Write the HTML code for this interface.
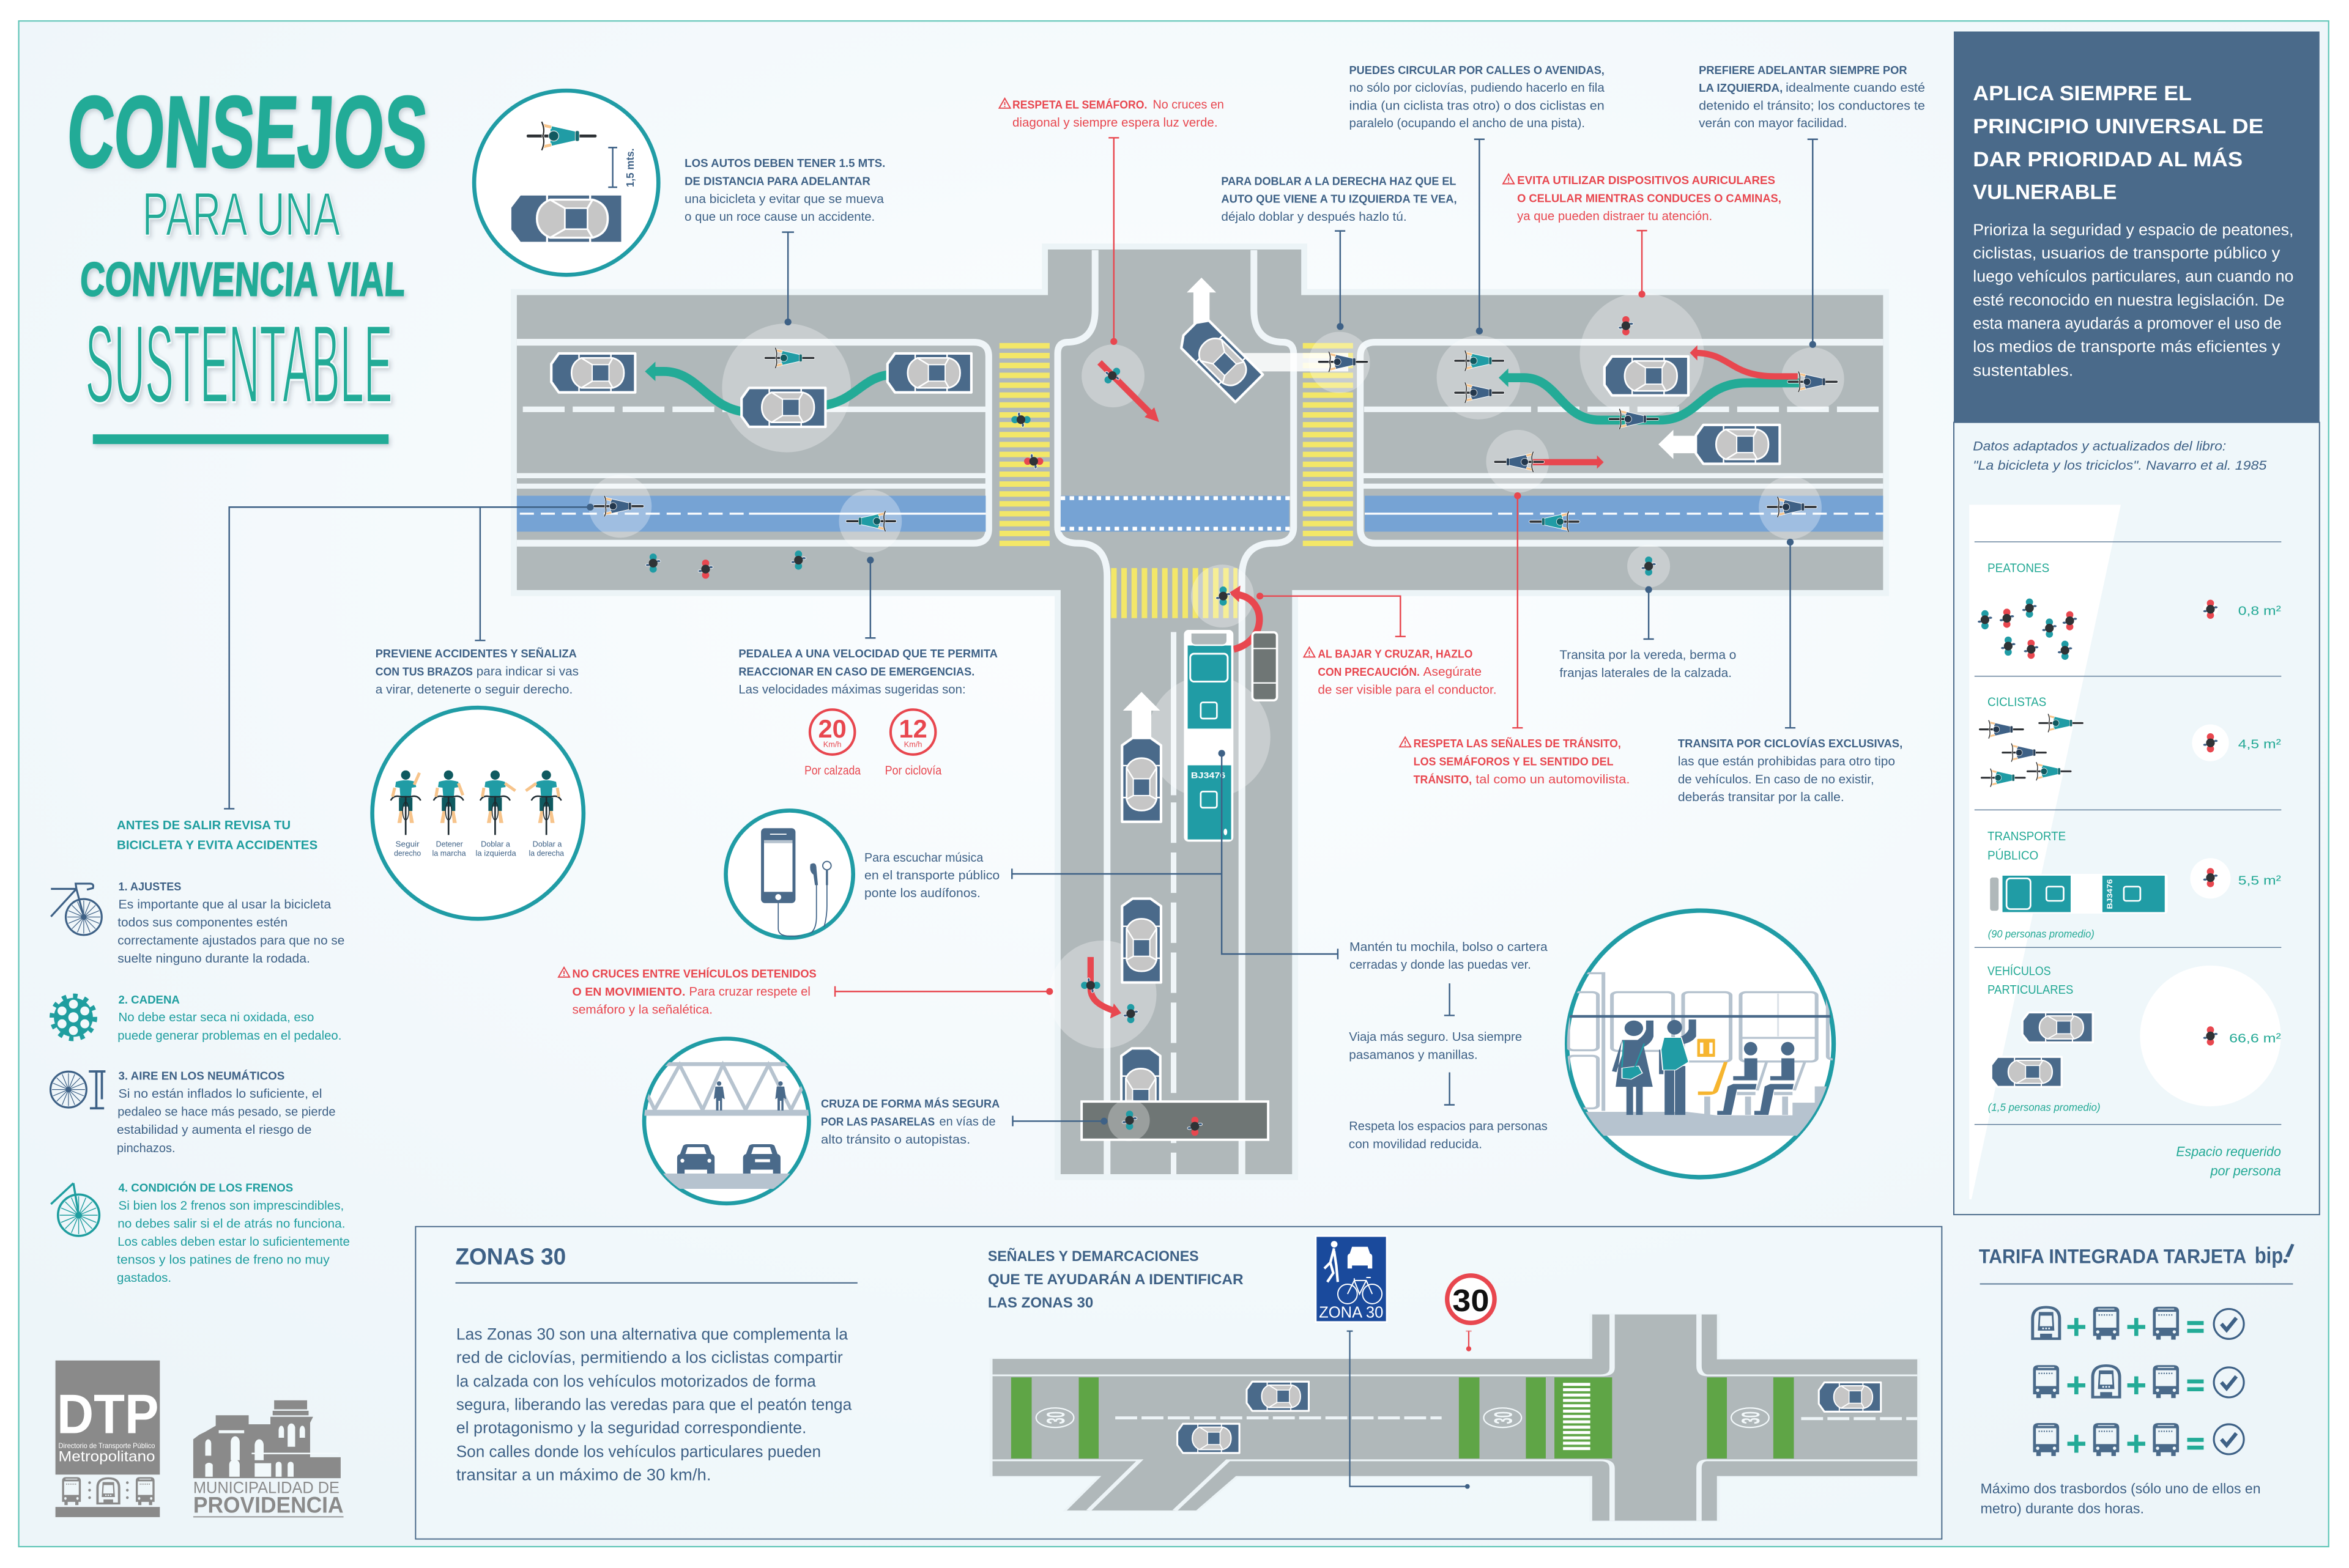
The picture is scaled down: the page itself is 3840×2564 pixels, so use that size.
<!DOCTYPE html>
<html lang="es"><head><meta charset="utf-8"><title>Consejos para una convivencia vial sustentable</title>
<style>
html,body{margin:0;padding:0;background:#fff;width:3840px;height:2564px;overflow:hidden}
svg{display:block}
text{font-family:"Liberation Sans",sans-serif}
.n{fill:#3e6186;font-size:8.2px}
.nb{fill:#3e6186;font-size:7.7px;font-weight:700}
.r{fill:#e8474f;font-size:8.2px}
.rb{fill:#e8474f;font-size:7.7px;font-weight:700}
.t{fill:#1f9e9f;font-size:8.2px}
.tb{fill:#1f9e9f;font-size:7.7px;font-weight:700}
.gr{fill:#23a995;font-size:8.4px}
.gi{fill:#23a995;font-size:8px;font-style:italic}
.w{fill:#fff;font-size:10.5px}
.wh{fill:#fff;font-size:14px;font-weight:700}
.z{fill:#3e6186;font-size:11px}
</style></head><body>
<svg xmlns="http://www.w3.org/2000/svg" width="3840" height="2564" viewBox="0 0 1568 1046.96">
<defs>
<radialGradient id="bg" cx="50%" cy="35%" r="70%"><stop offset="0" stop-color="#fcfeff"/><stop offset="1" stop-color="#edf5f9"/></radialGradient>
<filter id="sh" x="-10%" y="-10%" width="120%" height="130%"><feDropShadow dx="1.2" dy="1.6" stdDeviation="1.4" flood-color="#345" flood-opacity=".22"/></filter>
<clipPath id="c1"><circle cx="1135" cy="697" r="89"/></clipPath>
<clipPath id="c2"><circle cx="485" cy="748.5" r="55"/></clipPath>
<clipPath id="c3"><circle cx="527" cy="583.7" r="42"/></clipPath>
<g id="car">
<path d="M-23,-13H28V13H-23L-28,6V-6Z" fill="#4a6a8a" stroke="#fff" stroke-width="1.7" stroke-linejoin="round"/>
<path d="M-9.5,-13.5V-9M11.8,-13.5V-9M-9.5,13.5V9M11.8,13.5V9" stroke="#fff" stroke-width="1" fill="none"/>
<path d="M-8,-10H13Q20.5,-8 20.5,0Q20.5,8 13,10H-8Q-14.5,7 -14.5,0Q-14.5,-7 -8,-10Z" fill="#c6c6c6" stroke="#fff" stroke-width="1.1"/>
<path d="M-8,-10L-.7,-5.5M13,-10L10.5,-5.5M-8,10L-.7,5.5M13,10L10.5,5.5" stroke="#fff" stroke-width="1" fill="none"/>
<rect x="-.7" y="-5.5" width="11.2" height="11" fill="#4a6a8a" stroke="#fff" stroke-width=".8"/>
</g>
<g id="bk">
<path d="M-16,0H16" stroke="#fff" stroke-width="2.1" stroke-linecap="round"/><path d="M-16,0H16" stroke="#2b2f33" stroke-width="1.4" stroke-linecap="round"/>
<path d="M-5.5,-5L7,-2.2V2.2L-5.5,5Z" fill="currentColor" stroke="#fff" stroke-width=".4"/>
<rect x="6.5" y="-2.5" width="1.9" height="5" rx=".8" fill="currentColor" stroke="#fff" stroke-width=".3"/><rect x="6.5" y="-2.5" width="1.9" height="5" rx=".8" fill="#000" fill-opacity=".3"/>
<path d="M-9,-6L-4.7,-5L-5,-3.4L-9.3,-4.4ZM-9,6L-4.7,5L-5,3.4L-9.3,4.4Z" fill="#f7c48b" stroke="#fff" stroke-width=".25"/>
<path d="M-9.5,-6.8Q-7.8,-3 -9,0Q-7.8,3 -9.5,6.8" stroke="#fff" stroke-width="1.1" fill="none"/>
<path d="M-9.5,-6.8Q-7.8,-3 -9,0Q-7.8,3 -9.5,6.8" stroke="#222" stroke-width=".6" fill="none"/>
<circle cx="-3.8" cy="0" r="2.4" fill="currentColor" stroke="#fff" stroke-width=".35"/><circle cx="-3.8" cy="0" r="2.3" fill="#000" fill-opacity=".42"/>
</g>
<g id="pd">
<ellipse cx="0" cy="-4" rx="2.4" ry="2.4" fill="currentColor"/><ellipse cx="0" cy="4" rx="2.4" ry="2.4" fill="currentColor"/>
<ellipse cx="3.6" cy="-1.3" rx="1.4" ry=".9" fill="#3e6186" stroke="#fff" stroke-width=".35"/>
<ellipse cx="-3.6" cy="1.3" rx="1.4" ry=".9" fill="#3e6186" stroke="#fff" stroke-width=".35"/>
<circle r="2.9" fill="#2f3336"/>
</g>
<g id="wh" fill="none" stroke="currentColor">
<circle r="12" stroke-width="1.3"/><circle r="1.6" stroke-width=".6"/>
<path d="M-11,0H11M0,-11V11M-7.8,-7.8L7.8,7.8M-7.8,7.8L7.8,-7.8M-4.2,-10.2L4.2,10.2M-4.2,10.2L4.2,-10.2M-10.2,-4.2L10.2,4.2M-10.2,4.2L10.2,-4.2" stroke-width=".5"/>
</g>
<g id="bs">
<path d="M-8.7,-8Q-8.7,-11 -5,-11H5Q8.7,-11 8.7,-8V8.5H6.5V11H3.5V8.5H-3.5V11H-6.5V8.5H-8.7Z" fill="currentColor"/>
<path d="M-6.8,-7.6H6.8V3H-6.8Z" fill="#eef6f9"/><path d="M-5.5,-9.4H5.5" stroke="#eef6f9" stroke-width=".6"/>
<path d="M-5,-5.5H5" stroke="currentColor" stroke-width=".9" stroke-dasharray=".8 .9"/>
<circle cx="-5.6" cy="5.8" r="1.1" fill="#eef6f9"/><circle cx="5.6" cy="5.8" r="1.1" fill="#eef6f9"/>
</g>
<g id="mt">
<path d="M-10,11.2V-3Q-10,-11.5 0,-11.5Q10,-11.5 10,-3V11.2Z" fill="currentColor"/>
<path d="M-8,9.5V-3Q-8,-9.8 0,-9.8Q8,-9.8 8,-3V9.5H4V7H-4V9.5Z" fill="#eef6f9"/>
<path d="M-4.8,-7.5H4.8L5.5,5H-5.5Z" fill="currentColor"/><path d="M-3.8,-5H3.8L4.2,2H-4.2Z" fill="#eef6f9"/>
<circle cx="-2" cy="3.5" r=".6" fill="#eef6f9"/><circle cy="3.5" r=".6" fill="#eef6f9"/><circle cx="2" cy="3.5" r=".6" fill="#eef6f9"/>
</g>
<g id="ck"><circle r="10" fill="none" stroke="#3e6186" stroke-width="1.3"/><path d="M-5,0L-1.5,4L5,-4" fill="none" stroke="#3e6186" stroke-width="2.5"/></g>
<g id="pe"><path d="M-6,0H6M0,-6V6" stroke="#23ab97" stroke-width="2.7"/></g>
<g id="eq"><path d="M-5.5,-2.6H5.5M-5.5,2.6H5.5" stroke="#23ab97" stroke-width="2.7"/></g>
<path id="wr" d="M0,-3.8L3.7,2.7H-3.7ZM0,-1.4V.7M0,1.3V2" fill="none" stroke="#e8474f" stroke-width=".8"/>
<g id="fg">
<path d="M-6.5,4.5Q0,2.5 6.5,4.5L7,8L4,8.5L3.5,15H-3.5L-4,8.5L-7,8Z" fill="#209ca5"/>
<circle r="3.1" fill="#0f5a60"/>
<path d="M-4.5,15H4.5L4.5,24H2V21H-2V24H-4.5Z" fill="#0f5a60"/>
<path d="M-4,24L-5.5,32H-2.8L-2,24ZM4,24L5.5,32H2.8L2,24Z" fill="#f7c48b"/>
<path d="M-10,17Q-8,13 -3,14.5H3Q8,13 10,17" fill="none" stroke="#1d2a30" stroke-width="1"/>
<path d="M0,14V40" stroke="#1d2a30" stroke-width="1.1"/>
<ellipse cx="0" cy="24" rx="2" ry="6" fill="none" stroke="#1d2a30" stroke-width=".6"/>
</g>
</defs>

<rect width="1568" height="1046.96" fill="#fff"/>
<rect x="12.5" y="14" width="1541.9" height="1018.7" fill="url(#bg)" stroke="#62c6b8" stroke-width=".9"/>

<!-- TITLE -->
<g filter="url(#sh)" fill="#23ab97">
<text transform="translate(41,111.3) skewX(-3)" x="3" font-size="67.5" font-weight="700" stroke="#23ab97" stroke-width="1.3" textLength="240" lengthAdjust="spacingAndGlyphs">CONSEJOS</text>
<text x="95" y="157" font-size="41" stroke="#f6fbfd" stroke-width=".7" textLength="132" lengthAdjust="spacingAndGlyphs">PARA UNA</text>
<text transform="translate(52,197.5) skewX(-3)" x="1" font-size="32" font-weight="700" stroke="#23ab97" stroke-width=".7" textLength="217" lengthAdjust="spacingAndGlyphs">CONVIVENCIA VIAL</text>
<text x="57" y="268.5" font-size="74" stroke="#f6fbfd" stroke-width="1.3" textLength="205" lengthAdjust="spacingAndGlyphs">SUSTENTABLE</text>
<rect x="62" y="290" width="197.4" height="6.5"/>
</g>

<!-- MAIN ROAD -->
<path d="M345,197H699.5V166.6H868.6V197H1257V394H862.5V784H708V394H345Z" fill="#b0b8ba" stroke="#ecf4f7" stroke-width="8" paint-order="stroke"/>
<g fill="none" stroke="#eff5f8" stroke-width="4.5">
<path d="M345,228.5H650Q660,228.5 660,238V353Q660,362.7 650,362.7H345"/>
<path d="M1257,228.5H918Q908,228.5 908,238V353Q908,362.7 918,362.7H1257"/>
<path d="M731,167V207Q731,228.5 712,228.5Q706,229 706,236V352Q706,362.7 720,362.7Q739,363 739,385V784"/>
<path d="M837,167V207Q837,228.5 857,228.5Q863.5,229 863.5,236V352Q863.5,362.7 850,362.7Q829,363 829,385V784"/>
</g>
<g fill="none" stroke="#eff5f8" stroke-width="3.7">
<path d="M349,273.3H525" stroke-dasharray="27.9 5.4"/><path d="M548,273.3H658"/>
<path d="M910.5,273.3H1022"/><path d="M1026.4,273.3H1254" stroke-dasharray="27.9 5.4"/>
<path d="M783.4,422V531"/><path d="M783.4,535.8V784" stroke-dasharray="27 6.4"/>
</g>
<g stroke="#eff5f8" stroke-width="3.4"><path d="M345,317.6H658M345,324.6H658M910,317.6H1257M910,324.6H1257"/></g>
<g fill="#76a3d4"><rect x="345" y="331" width="313" height="24"/><rect x="708" y="331" width="152.6" height="24"/><rect x="911" y="331" width="346" height="24"/></g>
<path d="M708,332.6H861M708,353H861" stroke="#fff" stroke-width="2.6" stroke-dasharray="3 3" fill="none"/>
<g stroke="#fff" stroke-width="1.3" fill="none"><path d="M347,343H500" stroke-dasharray="9.4 4.6"/><path d="M500,343H658M911,343H996"/><path d="M1000,343H1257" stroke-dasharray="9.4 4.6"/></g>

<!-- crosswalks -->
<g fill="none" stroke="#f3e768" stroke-width="33.5" stroke-dasharray="3.65 2.95">
<path d="M683.9,229V365"/><path d="M886.4,229V365"/>
<path d="M741.7,396H826" stroke-width="33.4" stroke-dasharray="3.7 3.1"/>
</g>

<!-- bubbles -->
<g fill="#fff" fill-opacity=".3">
<circle cx="525" cy="259" r="43"/><circle cx="414" cy="338" r="21"/><circle cx="581" cy="348" r="21"/>
<circle cx="743" cy="251" r="21"/><circle cx="894" cy="242" r="20.5"/><circle cx="987" cy="252" r="28"/>
<circle cx="1096" cy="237" r="41.5"/><circle cx="1210" cy="253" r="21"/><circle cx="1013" cy="308" r="21"/>
<circle cx="1195" cy="339" r="21"/><circle cx="1100.5" cy="378" r="14.3"/><circle cx="816" cy="398" r="21"/>
<circle cx="807" cy="492" r="41"/><circle cx="736" cy="664" r="36"/>
</g>

<!-- arrows white -->
<g fill="#fff">
<path d="M802,185.4L811.8,195.3H807.4V216H796.6V195.3H792.2Z"/>
<path d="M828,235.7H900V248H828Z" fill-opacity=".85"/>
<path d="M1107,296.7L1117,287V291H1135V302.6H1117V306.5Z"/>
<path d="M762,462L774.4,474.5H768.5V495H755.5V474.5H749.6Z"/>
</g>
<!-- arrows teal -->
<g fill="none" stroke="#23ab97" stroke-width="6">
<path d="M497,275C472,272 466,248 443,248H435"/>
<path d="M548,271C572,268 575,251 596,250"/>
<path d="M1006,252.2H1017C1040,252 1042,280.5 1068,280.5H1108C1134,280.5 1136,255.6 1166,255.6H1201"/>
</g>
<path d="M430.5,248L437.5,241.5V254.5ZM1000.4,252.2L1006.8,246V258.4Z" fill="#23ab97"/>
<!-- arrows red -->
<g fill="none" stroke="#e8474f" stroke-width="4.2">
<path d="M1132,235.6C1155,236 1155,251.3 1185,251.3H1200"/>
<path d="M1023,308.6H1067"/>
<path d="M734,242L769,277"/>
<path d="M728,639V660C728,668 735,672 744,675"/>
<path d="M823.5,433.5C846,428 846,400 826,397" stroke-width="4.6"/>
</g>
<path d="M1128,235.6L1133,230.5V240.7ZM1070.5,308.6L1066,304V313ZM773.7,281.8L764,278.5L770.5,272ZM748.5,676.5L741,680L743.5,670ZM820.4,395.8L828,391L827,402Z" fill="#e8474f"/>

<!-- bus -->
<rect x="790.3" y="420.6" width="33" height="141.4" rx="3" fill="#fff"/>
<rect x="792.8" y="431" width="29" height="55.5" fill="#209ca5"/>
<path d="M794.8,422.5H819.2V427.5Q819.2,430.8 815.5,430.8H798.5Q794.8,430.8 794.8,427.5Z" fill="#b0b8ba" stroke="#fff" stroke-width="1"/>
<rect x="794.5" y="436.5" width="25" height="18.6" rx="2.5" fill="#209ca5" stroke="#fff" stroke-width="1.2"/>
<rect x="801.5" y="469" width="10.8" height="10.8" rx="1.4" fill="#209ca5" stroke="#fff" stroke-width="1.1"/>
<rect x="792.8" y="511" width="29" height="49.5" fill="#209ca5"/>
<rect x="801.5" y="528.5" width="10.8" height="10.8" rx="1.4" fill="#209ca5" stroke="#fff" stroke-width="1.1"/>
<ellipse cx="818" cy="555.5" rx="1.2" ry="2.2" fill="#fff"/>
<text x="795" y="519.6" font-size="5.6" font-weight="700" fill="#fff" textLength="23" lengthAdjust="spacingAndGlyphs">BJ3476</text>
<rect x="836" y="422.2" width="16.4" height="45.4" rx="2.2" fill="#6f7675" stroke="#fff" stroke-width="1.5"/>
<path d="M836,433H852.4M836,456H852.4" stroke="#fff" stroke-width=".9"/>

<!-- cars -->
<use href="#car" transform="translate(396,249)"/>
<use href="#car" transform="translate(523,272)"/>
<use href="#car" transform="translate(620.4,249)"/>
<use href="#car" transform="translate(814,239.5) rotate(45)"/>
<use href="#car" transform="translate(1099,251)"/>
<use href="#car" transform="translate(1160,296.7)"/>
<use href="#car" transform="translate(762,520.7) rotate(90)"/>
<use href="#car" transform="translate(762,628) rotate(90)"/>
<use href="#car" transform="translate(761.5,728) rotate(90)"/>

<!-- pasarela -->
<rect x="722" y="735.5" width="124.5" height="25.5" fill="#6f7675" stroke="#fff" stroke-width="1.6"/>
<circle cx="753.5" cy="748" r="14" fill="#fff" fill-opacity=".3"/>

<!-- bikers -->
<use href="#bk" color="#209ca5" transform="translate(527,239)"/>
<use href="#bk" color="#3e6186" transform="translate(413,338)"/>
<use href="#bk" color="#209ca5" transform="translate(581.5,348) scale(-1,1)"/>
<use href="#bk" color="#3e6186" transform="translate(896.5,241.6)"/>
<use href="#bk" color="#209ca5" transform="translate(987.4,240.9)"/>
<use href="#bk" color="#3e6186" transform="translate(987.4,262.2)"/>
<use href="#bk" color="#3e6186" transform="translate(1090.5,279.8)"/>
<use href="#bk" color="#3e6186" transform="translate(1210,254.9)"/>
<use href="#bk" color="#3e6186" transform="translate(1014,308.4) scale(-1,1)"/>
<use href="#bk" color="#209ca5" transform="translate(1037.6,348.3) scale(-1,1)"/>
<use href="#bk" color="#3e6186" transform="translate(1196,338.5)"/>
<!-- peds -->
<use href="#pd" color="#209ca5" transform="translate(436,376)"/>
<use href="#pd" color="#e8474f" transform="translate(471,380)"/>
<use href="#pd" color="#209ca5" transform="translate(533,374)"/>
<use href="#pd" color="#209ca5" transform="translate(681.5,280.2) rotate(90)"/>
<use href="#pd" color="#e8474f" transform="translate(690,308) rotate(90)"/>
<use href="#pd" color="#209ca5" transform="translate(742.5,250.8) rotate(45)"/>
<use href="#pd" color="#e8474f" transform="translate(1085.3,217.5)"/>
<use href="#pd" color="#209ca5" transform="translate(1100.5,378)"/>
<use href="#pd" color="#209ca5" transform="translate(816.5,398)"/>
<use href="#pd" color="#209ca5" transform="translate(728,657.9) rotate(90)"/>
<use href="#pd" color="#209ca5" transform="translate(754.8,676.8)"/>
<use href="#pd" color="#209ca5" transform="translate(754,748)"/>
<use href="#pd" color="#e8474f" transform="translate(797.6,752)"/>

<!-- connectors -->
<g fill="none" stroke="#3e6186" stroke-width="1">
<path d="M526,155V215M522,155H530"/>
<path d="M894.6,154.2V218M891,154.2H898"/>
<path d="M987.5,93V221M984,93H991"/>
<path d="M1210,93V230M1206.5,93H1213.5"/>
<path d="M1195,362V486M1191.5,486H1198.5"/>
<path d="M1100.5,393.7V426.7M1097,426.7H1104"/>
<path d="M581,374V426M577.5,426H584.5"/>
<path d="M394,338.6H153V540M149.5,540H156.5M320.5,338.6V427.6M317,427.6H324"/>
<path d="M815.5,503V637H893M893,633.5V640.5M815.5,583.5H675.5M675.5,580V587"/>
<path d="M676,748.6H737M676,745V752"/>
<path d="M967.6,656.6V678M964,678H971M967.6,716V737.7M964,737.7H971"/>
</g>
<g fill="none" stroke="#e8474f" stroke-width="1">
<path d="M743.5,92V228M740,92H747"/>
<path d="M1096,154V196M1092.5,154H1099.5"/>
<path d="M1013,331V486M1009.5,486H1016.5"/>
<path d="M841,398H934.8V425M931.3,425H938.3"/>
<path d="M557.4,662H700.6M557.4,658.5V665.5"/>
<path d="M978.5,888.8H982.3"/>
</g>
<g fill="#3e6186">
<circle cx="526" cy="215" r="2.3"/><circle cx="894.6" cy="218" r="2.3"/><circle cx="987.5" cy="221" r="2.3"/><circle cx="1210" cy="230" r="2.3"/>
<circle cx="1195" cy="362" r="2.3"/><circle cx="1100.5" cy="393.7" r="2.3"/><circle cx="581" cy="374" r="2.3"/><circle cx="394" cy="338.6" r="2.3"/>
<circle cx="815.5" cy="503" r="2.3"/><circle cx="737" cy="748.6" r="2.3"/>
</g>
<g fill="#e8474f">
<circle cx="743.5" cy="228" r="2.3"/><circle cx="1096" cy="196.4" r="2.3"/><circle cx="1013" cy="331" r="2.3"/><circle cx="841" cy="398" r="2.3"/><circle cx="700.6" cy="662" r="2.3"/>
</g>

<!-- CIRCLE 1 -->
<circle cx="378" cy="122" r="61.5" fill="#fff" stroke="#209ca5" stroke-width="2.7"/>
<use href="#bk" color="#209ca5" transform="translate(374.9,90.8) scale(1.4)"/>
<path d="M409,98.5V125M406,98.5H412M406,125H412" stroke="#3e6186" stroke-width="1" fill="none"/>
<text transform="translate(423,125) rotate(-90)" font-size="7.2" font-weight="700" fill="#3e6186" textLength="26" lengthAdjust="spacingAndGlyphs">1,5 mts.</text>
<use href="#car" transform="translate(378,146) scale(1.35,1.27)"/>

<!-- signals -->
<circle cx="319" cy="543" r="70.5" fill="#fff" stroke="#209ca5" stroke-width="2.7"/>
<use href="#fg" x="270.8" y="517.5"/><use href="#fg" x="299.4" y="517.5"/><use href="#fg" x="330.5" y="517.5"/><use href="#fg" x="364.7" y="517.5"/>
<g fill="none" stroke="#f7c48b" stroke-width="2">
<path d="M263.5,526L262,532M276.5,524L280,516"/><path d="M292,526L291,532M306,523L309,531"/>
<path d="M323,526L322,532M337,523L344,528"/><path d="M372,526L373,532M358,523L351,528"/>
</g>
<g font-size="5.3" fill="#3e6186">
<text x="264" y="565.3" textLength="16" lengthAdjust="spacingAndGlyphs">Seguir</text><text x="263" y="571.5" textLength="18" lengthAdjust="spacingAndGlyphs">derecho</text>
<text x="291" y="565.3" textLength="18" lengthAdjust="spacingAndGlyphs">Detener</text><text x="288.5" y="571.5" textLength="22.5" lengthAdjust="spacingAndGlyphs">la marcha</text>
<text x="321" y="565.3" textLength="19.5" lengthAdjust="spacingAndGlyphs">Doblar a</text><text x="317.5" y="571.5" textLength="27" lengthAdjust="spacingAndGlyphs">la izquierda</text>
<text x="355.5" y="565.3" textLength="19.5" lengthAdjust="spacingAndGlyphs">Doblar a</text><text x="353" y="571.5" textLength="23.5" lengthAdjust="spacingAndGlyphs">la derecha</text>
</g>

<!-- phone -->
<circle cx="527" cy="583.7" r="42.5" fill="#fff" stroke="#209ca5" stroke-width="2.7"/>
<g clip-path="url(#c3)">
<rect x="508" y="553" width="23" height="50" rx="2.6" fill="#4a6a8a"/><rect x="510" y="561" width="19" height="34.5" fill="#fff"/><rect x="510" y="561" width="19" height="2" fill="#b6c3cf"/>
<circle cx="519.5" cy="599" r="2" fill="#fff"/><path d="M514,557H525" stroke="#fff" stroke-width=".7"/>
<path d="M519.5,603V620Q519.5,625 527,625H535Q545,625 545,612V590M552,585V605Q552,616 547,628" fill="none" stroke="#3e6186" stroke-width=".7"/>
<path d="M541,577Q545,575 545,580L546,591H544L543,584Q540,582 541,577Z" fill="#4a6a8a"/>
<circle cx="552" cy="578" r="2.8" fill="#fff" stroke="#4a6a8a" stroke-width=".8"/><path d="M552,581V591" stroke="#4a6a8a" stroke-width="1.4"/>
</g>

<!-- bridge -->
<circle cx="485" cy="748.5" r="55" fill="#fff" stroke="#209ca5" stroke-width="2.7"/>
<g clip-path="url(#c2)">
<path d="M425,710.5H545" stroke="#b6c3cf" stroke-width="2.6"/>
<path d="M425,743H545" stroke="#b6c3cf" stroke-width="4"/>
<path d="M422,710L437,741L453.7,711L469,741L482.5,711L497.7,741L513,711L528,741L543,711" fill="none" stroke="#b6c3cf" stroke-width="2.4"/>
<rect x="425" y="783.6" width="120" height="10.2" fill="#b6c3cf"/>
<g fill="#4a6a8a">
<circle cx="480" cy="723.5" r="1.5"/><path d="M477.5,725.5H482.5L483.8,734L482,733V741.5H480.6V735H479.6V741.5H478V733L476.5,734Z"/>
<circle cx="521" cy="723.5" r="1.5"/><path d="M518.5,725.5H523.5L524.8,734L523,733V741.5H521.6V735H520.6V741.5H519V733L517.5,734Z"/>
<path d="M452,783.6V773Q452,771 454,770.5L456,765Q457,764 459,764H470Q472,764 473,765L475,770.5Q477,771 477,773V783.6H472V781H457V783.6Z"/>
<path d="M496,783.6V773Q496,771 498,770.5L500,765Q501,764 503,764H514Q516,764 517,765L519,770.5Q521,771 521,773V783.6H516V781H501V783.6Z"/>
</g>
<path d="M457.5,770.5L459,766H470L471.5,770.5ZM501.5,770.5L503,766H514L515.5,770.5Z" fill="#fff"/>
<circle cx="455.5" cy="775" r="1.3" fill="#fff"/><circle cx="473.5" cy="775" r="1.3" fill="#fff"/><rect x="504" y="774" width="10" height="2" fill="#fff"/>
</g>

<!-- interior -->
<circle cx="1135" cy="697" r="89" fill="#fff" stroke="#209ca5" stroke-width="3"/>
<g clip-path="url(#c1)"><g transform="translate(898.3,592) scale(.2475,.1361)">
<g fill="none" stroke="#b6c3cf" stroke-width="10">
<rect x="600" y="518" width="80" height="285" rx="15"/><rect x="600" y="830" width="80" height="258" rx="15"/>
<rect x="718" y="518" width="165" height="288" rx="15"/><rect x="910" y="518" width="128" height="340" rx="15"/>
<rect x="1065" y="518" width="205" height="340" rx="15"/><rect x="1300" y="518" width="60" height="330" rx="15"/>
<path d="M600,425H695V1100M1065,742H1270"/><path d="M1166,525V735" stroke-width="5" stroke="#dbe2e8"/>
</g>
<path d="M640,1105H920L1000,1122H1205V1060H1265V980H1340V1222H640Z" fill="#b6c3cf"/>
<g fill="#4a6a8a">
<rect x="600" y="630" width="715" height="13"/>
<ellipse cx="777" cy="695" rx="25" ry="38"/>
<path d="M810,657H830V735Q825,770 800,790L780,760Q805,735 810,700Z"/>
<path d="M745,752H800L828,982H728ZM745,752L718,905L730,910L750,800Z"/>
<rect x="757" y="975" width="18" height="145"/><rect x="783" y="975" width="18" height="145"/>
<ellipse cx="887" cy="690" rx="20" ry="36"/>
<path d="M925,652H945V735Q935,765 905,775L895,745Q920,725 925,700Z"/>
<rect x="860" y="880" width="26" height="240"/><rect x="888" y="880" width="28" height="240"/>
<rect x="845" y="800" width="12" height="120"/>
<ellipse cx="1092" cy="795" rx="18" ry="33"/><ellipse cx="1192" cy="795" rx="18" ry="33"/>
<path d="M1075,842H1110V950H1045V930H1075ZM1175,842H1210V950H1145V930H1175Z"/>
<path d="M1045,968H1108L1105,995H1055L1040,1120H1002V1100L1018,1100L1030,980ZM1145,968H1208L1205,995H1155L1140,1120H1102V1100L1118,1100L1130,980Z"/>
</g>
<path d="M858,740H905L925,860L890,900H855L850,800Z" fill="#209ca5" stroke="#fff" stroke-width="3"/>
<path d="M745,890L790,880L800,915L770,945L745,940Z" fill="#209ca5" stroke="#fff" stroke-width="3"/>
<path d="M750,755L745,885M805,770L780,885" stroke="#209ca5" stroke-width="4"/>
<rect x="948" y="747" width="48" height="88" rx="3" fill="#f6b52f"/>
<path d="M960,765V820M985,765V820" stroke="#fff" stroke-width="9"/>
<path d="M1030,860L1005,1000Q1000,1022 975,1022H950V1005H990L1020,860Z" fill="#f6b52f"/>
<path d="M975,1030V1120M1085,1030V1120M1185,1030V1120" stroke="#b6c3cf" stroke-width="16"/>
<path d="M1135,860L1110,1000M1238,860L1210,1000" stroke="#b6c3cf" stroke-width="8"/>
<path d="M1055,1015H1105M1155,1015H1205" stroke="#b6c3cf" stroke-width="16"/>
</g></g>

<!-- speed signs -->
<g fill="none" stroke="#e8474f" stroke-width="1.7"><circle cx="555.6" cy="488.8" r="15"/><circle cx="609.5" cy="488.8" r="15"/></g>
<g fill="#e8474f" text-anchor="middle">
<text x="555.6" y="492.5" font-size="17" font-weight="700">20</text><text x="609.5" y="492.5" font-size="17" font-weight="700">12</text>
<text x="555.6" y="498.8" font-size="5.2">Km/h</text><text x="609.5" y="498.8" font-size="5.2">Km/h</text>
</g>

<!-- LABELS -->
<text class="nb" x="457" y="111.5" textLength="134" lengthAdjust="spacingAndGlyphs">LOS AUTOS DEBEN TENER 1.5 MTS.</text>
<text class="nb" x="457" y="123.5" textLength="124" lengthAdjust="spacingAndGlyphs">DE DISTANCIA PARA ADELANTAR</text>
<text class="n" x="457" y="135.5" textLength="133" lengthAdjust="spacingAndGlyphs">una bicicleta y evitar que se mueva</text>
<text class="n" x="457" y="147.5" textLength="127" lengthAdjust="spacingAndGlyphs">o que un roce cause un accidente.</text>

<use href="#wr" x="670.7" y="69.5"/>
<text class="rb" x="675.8" y="72.4" textLength="90" lengthAdjust="spacingAndGlyphs">RESPETA EL SEMÁFORO.</text>
<text class="r" x="769.5" y="72.4" textLength="47.5" lengthAdjust="spacingAndGlyphs">No cruces en</text>
<text class="r" x="675.8" y="84.6" textLength="137" lengthAdjust="spacingAndGlyphs">diagonal  y siempre espera luz verde.</text>

<text class="nb" x="900.6" y="49.5" textLength="170.4" lengthAdjust="spacingAndGlyphs">PUEDES CIRCULAR POR CALLES O AVENIDAS,</text>
<text class="n" x="900.6" y="61.3" textLength="170.4" lengthAdjust="spacingAndGlyphs">no sólo por ciclovías, pudiendo hacerlo en fila</text>
<text class="n" x="900.6" y="73.2" textLength="170.4" lengthAdjust="spacingAndGlyphs">india (un ciclista tras otro) o dos ciclistas en</text>
<text class="n" x="900.6" y="85" textLength="157.4" lengthAdjust="spacingAndGlyphs">paralelo (ocupando el ancho de una pista).</text>

<text class="nb" x="1134" y="49.5" textLength="139" lengthAdjust="spacingAndGlyphs">PREFIERE ADELANTAR SIEMPRE POR</text>
<text class="nb" x="1134" y="61.3" textLength="56" lengthAdjust="spacingAndGlyphs">LA IZQUIERDA,</text>
<text class="n" x="1192" y="61.3" textLength="93" lengthAdjust="spacingAndGlyphs">idealmente cuando esté</text>
<text class="n" x="1134" y="73.2" textLength="151" lengthAdjust="spacingAndGlyphs">detenido el tránsito; los conductores te</text>
<text class="n" x="1134" y="85" textLength="99" lengthAdjust="spacingAndGlyphs">verán con mayor facilidad.</text>

<text class="nb" x="815.2" y="123.5" textLength="156.8" lengthAdjust="spacingAndGlyphs">PARA DOBLAR A LA DERECHA HAZ QUE EL</text>
<text class="nb" x="815.2" y="135.4" textLength="157.3" lengthAdjust="spacingAndGlyphs">AUTO QUE VIENE A TU IZQUIERDA TE VEA,</text>
<text class="n" x="815.2" y="147.4" textLength="123.8" lengthAdjust="spacingAndGlyphs">déjalo doblar y después hazlo tú.</text>

<use href="#wr" x="1007" y="120"/>
<text class="rb" x="1012.7" y="123" textLength="172.3" lengthAdjust="spacingAndGlyphs">EVITA UTILIZAR DISPOSITIVOS AURICULARES</text>
<text class="rb" x="1012.7" y="135" textLength="176.3" lengthAdjust="spacingAndGlyphs">O CELULAR MIENTRAS CONDUCES O CAMINAS,</text>
<text class="r" x="1012.7" y="147" textLength="130.3" lengthAdjust="spacingAndGlyphs">ya que pueden distraer tu atención.</text>

<!-- left list -->
<text class="tb" x="78" y="553.8" textLength="116" lengthAdjust="spacingAndGlyphs" style="font-size:8.2px">ANTES DE SALIR REVISA TU</text>
<text class="tb" x="78" y="567" textLength="134" lengthAdjust="spacingAndGlyphs" style="font-size:8.2px">BICICLETA Y EVITA ACCIDENTES</text>
<text class="nb" x="79" y="594.5" textLength="42" lengthAdjust="spacingAndGlyphs">1. AJUSTES</text>
<text class="n" x="79" y="606.6" textLength="142" lengthAdjust="spacingAndGlyphs">Es importante que al usar la bicicleta</text>
<text class="n" x="78.5" y="618.6" textLength="113.5" lengthAdjust="spacingAndGlyphs">todos sus componentes estén</text>
<text class="n" x="78.5" y="630.6" textLength="151.5" lengthAdjust="spacingAndGlyphs">correctamente ajustados para que no se</text>
<text class="n" x="78.5" y="642.7" textLength="128.5" lengthAdjust="spacingAndGlyphs">suelte ninguno durante la rodada.</text>
<text class="tb" x="79" y="670" textLength="41" lengthAdjust="spacingAndGlyphs">2. CADENA</text>
<text class="t" x="79" y="682" textLength="130.6" lengthAdjust="spacingAndGlyphs">No debe estar seca ni oxidada, eso</text>
<text class="t" x="78.5" y="694.2" textLength="149.5" lengthAdjust="spacingAndGlyphs">puede generar problemas en el pedaleo.</text>
<text class="nb" x="79" y="721" textLength="111" lengthAdjust="spacingAndGlyphs">3. AIRE EN LOS NEUMÁTICOS</text>
<text class="n" x="79" y="733" textLength="136" lengthAdjust="spacingAndGlyphs">Si no están inflados lo suficiente, el</text>
<text class="n" x="78.5" y="745" textLength="145.5" lengthAdjust="spacingAndGlyphs">pedaleo se hace más pesado, se pierde</text>
<text class="n" x="78" y="757" textLength="130" lengthAdjust="spacingAndGlyphs">estabilidad y aumenta el riesgo de</text>
<text class="n" x="78" y="769.3" textLength="39" lengthAdjust="spacingAndGlyphs">pinchazos.</text>
<text class="tb" x="79" y="795.7" textLength="116.7" lengthAdjust="spacingAndGlyphs">4. CONDICIÓN DE LOS FRENOS</text>
<text class="t" x="79" y="807.7" textLength="150.6" lengthAdjust="spacingAndGlyphs">Si bien los 2 frenos son imprescindibles,</text>
<text class="t" x="78.5" y="819.7" textLength="152" lengthAdjust="spacingAndGlyphs">no debes salir si el de atrás no funciona.</text>
<text class="t" x="78.5" y="831.7" textLength="155" lengthAdjust="spacingAndGlyphs">Los cables deben estar lo suficientemente</text>
<text class="t" x="78" y="843.8" textLength="142" lengthAdjust="spacingAndGlyphs">tensos  y los patines de freno no muy</text>
<text class="t" x="78" y="855.8" textLength="36.4" lengthAdjust="spacingAndGlyphs">gastados.</text>

<!-- icons left -->
<use href="#wh" color="#3e6186" transform="translate(55.9,612.3)"/>
<path d="M34,593.5H51L55.9,612M51,593.5L34,612M51,593.5L50.5,590H60Q63,590 62,593L58,594" fill="none" stroke="#3e6186" stroke-width="1.3"/>
<circle cx="49" cy="679.3" r="14.4" fill="none" stroke="#1f9e9f" stroke-width="3" stroke-dasharray="3 4.5"/>
<circle cx="49" cy="679.3" r="13" fill="#1f9e9f"/>
<g fill="#f2f9fb"><circle cx="49" cy="679.3" r="3.4"/><circle cx="49" cy="670.5" r="3"/><circle cx="49" cy="688.1" r="3"/><circle cx="41.4" cy="675" r="3"/><circle cx="56.6" cy="675" r="3"/><circle cx="41.4" cy="683.6" r="3"/><circle cx="56.6" cy="683.6" r="3"/></g>
<use href="#wh" color="#3e6186" transform="translate(45.7,727.5)"/>
<path d="M64.3,715.4V740M59.3,715.4H70.4M60,740H69.5M68,716V734" fill="none" stroke="#3e6186" stroke-width="1.5"/>
<use href="#wh" color="#1f9e9f" transform="translate(52.5,811.4) scale(1.15)"/>
<path d="M49,790L52.5,811M49,790L34,804" fill="none" stroke="#1f9e9f" stroke-width="1.4"/>

<text class="nb" x="250.6" y="439" textLength="134.4" lengthAdjust="spacingAndGlyphs">PREVIENE ACCIDENTES Y SEÑALIZA</text>
<text class="nb" x="250.6" y="451" textLength="65" lengthAdjust="spacingAndGlyphs">CON TUS BRAZOS</text>
<text class="n" x="318" y="451" textLength="68.3" lengthAdjust="spacingAndGlyphs">para indicar si vas</text>
<text class="n" x="250.6" y="463" textLength="131.7" lengthAdjust="spacingAndGlyphs">a virar, detenerte o seguir derecho.</text>

<text class="nb" x="493" y="439" textLength="173" lengthAdjust="spacingAndGlyphs">PEDALEA A UNA VELOCIDAD QUE TE PERMITA</text>
<text class="nb" x="493" y="451" textLength="157.6" lengthAdjust="spacingAndGlyphs">REACCIONAR EN CASO DE EMERGENCIAS.</text>
<text class="n" x="493" y="463" textLength="151.6" lengthAdjust="spacingAndGlyphs">Las velocidades máximas sugeridas son:</text>
<text class="r" x="537" y="517.2" textLength="37.5" lengthAdjust="spacingAndGlyphs">Por calzada</text>
<text class="r" x="590.7" y="517.2" textLength="37.8" lengthAdjust="spacingAndGlyphs">Por ciclovía</text>

<text class="n" x="577" y="575.4" textLength="79.3" lengthAdjust="spacingAndGlyphs">Para escuchar música</text>
<text class="n" x="577" y="587.2" textLength="90.3" lengthAdjust="spacingAndGlyphs">en el transporte público</text>
<text class="n" x="577" y="599.1" textLength="77.5" lengthAdjust="spacingAndGlyphs">ponte los audífonos.</text>

<use href="#wr" x="376.5" y="649.7"/>
<text class="rb" x="382" y="652.7" textLength="163" lengthAdjust="spacingAndGlyphs">NO CRUCES ENTRE VEHÍCULOS DETENIDOS</text>
<text class="rb" x="382" y="664.7" textLength="75.5" lengthAdjust="spacingAndGlyphs">O EN MOVIMIENTO.</text>
<text class="r" x="460" y="664.7" textLength="81" lengthAdjust="spacingAndGlyphs">Para cruzar respete el</text>
<text class="r" x="382" y="676.8" textLength="93.7" lengthAdjust="spacingAndGlyphs">semáforo y la señalética.</text>

<text class="nb" x="548" y="739.4" textLength="119.3" lengthAdjust="spacingAndGlyphs">CRUZA DE FORMA MÁS SEGURA</text>
<text class="nb" x="548" y="751.6" textLength="76" lengthAdjust="spacingAndGlyphs">POR LAS PASARELAS</text>
<text class="n" x="627" y="751.6" textLength="37.6" lengthAdjust="spacingAndGlyphs">en vías de</text>
<text class="n" x="548" y="763.5" textLength="99.7" lengthAdjust="spacingAndGlyphs">alto tránsito o autopistas.</text>

<use href="#wr" x="874" y="436"/>
<text class="rb" x="879.7" y="439.2" textLength="103.3" lengthAdjust="spacingAndGlyphs">AL BAJAR Y CRUZAR, HAZLO</text>
<text class="rb" x="879.7" y="451.2" textLength="68" lengthAdjust="spacingAndGlyphs">CON PRECAUCIÓN.</text>
<text class="r" x="950" y="451.2" textLength="39" lengthAdjust="spacingAndGlyphs">Asegúrate</text>
<text class="r" x="879.7" y="463.2" textLength="119.3" lengthAdjust="spacingAndGlyphs">de ser visible para el conductor.</text>

<use href="#wr" x="938" y="496"/>
<text class="rb" x="943.5" y="499" textLength="138.5" lengthAdjust="spacingAndGlyphs">RESPETA LAS SEÑALES DE TRÁNSITO,</text>
<text class="rb" x="943.5" y="511" textLength="133.5" lengthAdjust="spacingAndGlyphs">LOS SEMÁFOROS Y EL SENTIDO DEL</text>
<text class="rb" x="943.5" y="523" textLength="39" lengthAdjust="spacingAndGlyphs">TRÁNSITO,</text>
<text class="r" x="985" y="523" textLength="103" lengthAdjust="spacingAndGlyphs">tal como un automovilista.</text>

<text class="nb" x="1120" y="499" textLength="150" lengthAdjust="spacingAndGlyphs">TRANSITA POR CICLOVÍAS EXCLUSIVAS,</text>
<text class="n" x="1120" y="511" textLength="145" lengthAdjust="spacingAndGlyphs">las que están prohibidas para otro tipo</text>
<text class="n" x="1120" y="523" textLength="131" lengthAdjust="spacingAndGlyphs">de vehículos. En caso de no existir,</text>
<text class="n" x="1120" y="535" textLength="111" lengthAdjust="spacingAndGlyphs">deberás transitar por la calle.</text>

<text class="n" x="1041" y="440" textLength="118" lengthAdjust="spacingAndGlyphs">Transita por la vereda, berma o</text>
<text class="n" x="1041" y="452" textLength="115" lengthAdjust="spacingAndGlyphs">franjas laterales de la calzada.</text>

<text class="n" x="900.8" y="634.9" textLength="132.2" lengthAdjust="spacingAndGlyphs">Mantén tu mochila, bolso o cartera</text>
<text class="n" x="900.8" y="646.8" textLength="121.2" lengthAdjust="spacingAndGlyphs">cerradas y donde las puedas ver.</text>
<text class="n" x="900.5" y="695" textLength="115.5" lengthAdjust="spacingAndGlyphs">Viaja más seguro. Usa siempre</text>
<text class="n" x="900.5" y="707" textLength="85.9" lengthAdjust="spacingAndGlyphs">pasamanos y manillas.</text>
<text class="n" x="900.5" y="754.6" textLength="132.5" lengthAdjust="spacingAndGlyphs">Respeta los espacios para personas</text>
<text class="n" x="900.3" y="766.6" textLength="89.1" lengthAdjust="spacingAndGlyphs">con movilidad reducida.</text>

<!-- SIDEBAR -->
<rect x="1304.2" y="21" width="244.1" height="261" fill="#4a6a8a"/>
<rect x="1304.2" y="282" width="244.1" height="529" fill="#eff7fa" stroke="#4a6a8a" stroke-width=".8"/>
<text class="wh" x="1317" y="67" textLength="146" lengthAdjust="spacingAndGlyphs">APLICA SIEMPRE EL</text>
<text class="wh" x="1317" y="89" textLength="194" lengthAdjust="spacingAndGlyphs">PRINCIPIO UNIVERSAL DE</text>
<text class="wh" x="1317" y="111" textLength="180" lengthAdjust="spacingAndGlyphs">DAR PRIORIDAD AL MÁS</text>
<text class="wh" x="1317" y="133" textLength="96" lengthAdjust="spacingAndGlyphs">VULNERABLE</text>
<text class="w" x="1317" y="157" textLength="214" lengthAdjust="spacingAndGlyphs">Prioriza la seguridad y espacio de peatones,</text>
<text class="w" x="1317" y="172.5" textLength="205" lengthAdjust="spacingAndGlyphs">ciclistas, usuarios de transporte público y</text>
<text class="w" x="1317" y="188" textLength="214" lengthAdjust="spacingAndGlyphs">luego vehículos particulares, aun cuando no</text>
<text class="w" x="1317" y="204" textLength="208" lengthAdjust="spacingAndGlyphs">esté reconocido en nuestra legislación. De</text>
<text class="w" x="1317" y="219.5" textLength="206" lengthAdjust="spacingAndGlyphs">esta manera ayudarás a promover el uso de</text>
<text class="w" x="1317" y="235" textLength="205" lengthAdjust="spacingAndGlyphs">los medios de transporte más eficientes y</text>
<text class="w" x="1317" y="251" textLength="67" lengthAdjust="spacingAndGlyphs">sustentables.</text>

<text x="1317" y="300.7" font-size="8.6" font-style="italic" fill="#3e6186" textLength="169" lengthAdjust="spacingAndGlyphs">Datos adaptados y actualizados del libro:</text>
<text x="1317" y="313.7" font-size="8.6" font-style="italic" fill="#3e6186" textLength="196" lengthAdjust="spacingAndGlyphs">"La bicicleta y los triciclos". Navarro et al. 1985</text>
<path d="M1314.5,337H1415.7L1316,800.8H1314.5Z" fill="#fff" fill-opacity=".95"/>
<path d="M1318,361.8H1522.8M1318,451.5H1522.8M1318,540.8H1522.8M1318,632.6H1522.8M1318,750.8H1522.8" stroke="#4a6a8a" stroke-width=".5"/>

<g fill="#fff"><circle cx="1475.5" cy="406.8" r="5"/><circle cx="1475.5" cy="496" r="12.3"/><circle cx="1475.5" cy="586.5" r="13.5"/><circle cx="1475.5" cy="691.7" r="47"/></g>

<text class="gr" x="1326.7" y="382" textLength="41.3" lengthAdjust="spacingAndGlyphs">PEATONES</text>
<text class="gr" x="1326.7" y="471.5" textLength="39.3" lengthAdjust="spacingAndGlyphs">CICLISTAS</text>
<text class="gr" x="1326.7" y="561" textLength="52.3" lengthAdjust="spacingAndGlyphs">TRANSPORTE</text>
<text class="gr" x="1326.7" y="574" textLength="34" lengthAdjust="spacingAndGlyphs">PÚBLICO</text>
<text class="gr" x="1326.7" y="651" textLength="42.3" lengthAdjust="spacingAndGlyphs">VEHÍCULOS</text>
<text class="gr" x="1326.7" y="663.5" textLength="57.3" lengthAdjust="spacingAndGlyphs">PARTICULARES</text>
<text class="gi" x="1327" y="626" textLength="71" lengthAdjust="spacingAndGlyphs" style="font-size:7px">(90 personas promedio)</text>
<text class="gi" x="1327" y="741.7" textLength="75" lengthAdjust="spacingAndGlyphs" style="font-size:7px">(1,5 personas promedio)</text>
<text class="gr" x="1494" y="410.6" textLength="28.6" lengthAdjust="spacingAndGlyphs">0,8 m²</text>
<text class="gr" x="1494" y="499.6" textLength="28.6" lengthAdjust="spacingAndGlyphs">4,5 m²</text>
<text class="gr" x="1494" y="590.7" textLength="28.6" lengthAdjust="spacingAndGlyphs">5,5 m²</text>
<text class="gr" x="1488" y="696" textLength="34.6" lengthAdjust="spacingAndGlyphs">66,6 m²</text>
<text class="gi" x="1452.6" y="772" textLength="70" lengthAdjust="spacingAndGlyphs" style="font-size:9px">Espacio requerido</text>
<text class="gi" x="1475.5" y="784.8" textLength="47.1" lengthAdjust="spacingAndGlyphs" style="font-size:9px">por persona</text>

<use href="#pd" color="#e8474f" transform="translate(1475.5,406.8)"/>
<use href="#pd" color="#e8474f" transform="translate(1475.5,496)"/>
<use href="#pd" color="#e8474f" transform="translate(1475.5,586)"/>
<use href="#pd" color="#e8474f" transform="translate(1475.5,691.7)"/>
<use href="#pd" color="#209ca5" transform="translate(1325,413.8)"/>
<use href="#pd" color="#e8474f" transform="translate(1339.6,412.8)"/>
<use href="#pd" color="#209ca5" transform="translate(1354.7,406)"/>
<use href="#pd" color="#209ca5" transform="translate(1368,419.4)"/>
<use href="#pd" color="#e8474f" transform="translate(1381.6,414.5)"/>
<use href="#pd" color="#209ca5" transform="translate(1340.5,431.4)"/>
<use href="#pd" color="#e8474f" transform="translate(1355.8,433.5)"/>
<use href="#pd" color="#209ca5" transform="translate(1378.4,434.2)"/>
<use href="#bk" color="#3e6186" transform="translate(1336,487) scale(.9)"/>
<use href="#bk" color="#209ca5" transform="translate(1375.7,482.8) scale(.9)"/>
<use href="#bk" color="#3e6186" transform="translate(1351.2,502.5) scale(.9)"/>
<use href="#bk" color="#209ca5" transform="translate(1337.2,519.3) scale(.9)"/>
<use href="#bk" color="#209ca5" transform="translate(1367.8,515) scale(.9)"/>
<!-- panel bus -->
<rect x="1327" y="583.5" width="120" height="26.5" rx="2" fill="#fff"/>
<rect x="1336.7" y="584.7" width="45.5" height="24.3" fill="#209ca5"/>
<rect x="1403.4" y="584.7" width="41.6" height="24.3" fill="#209ca5"/>
<rect x="1328" y="585.5" width="6.5" height="23" rx="2" fill="#b0b8ba" stroke="#fff" stroke-width=".8"/>
<rect x="1339.4" y="586.5" width="16" height="20.5" rx="2.5" fill="#209ca5" stroke="#fff" stroke-width="1.1"/>
<rect x="1366" y="592" width="11.5" height="9.5" rx="1.4" fill="#209ca5" stroke="#fff" stroke-width="1.1"/>
<rect x="1417.7" y="592" width="11" height="9.5" rx="1.4" fill="#209ca5" stroke="#fff" stroke-width="1.1"/>
<text transform="translate(1410,607) rotate(-90)" font-size="5" font-weight="700" fill="#fff" textLength="20" lengthAdjust="spacingAndGlyphs">BJ3476</text>
<use href="#car" transform="translate(1373.5,686) scale(.84,.77)"/>
<use href="#car" transform="translate(1352.7,715.7) scale(.84,.77)"/>

<!-- ZONAS 30 -->
<rect x="277.4" y="819" width="1018.8" height="208.6" fill="#f2f9fb" fill-opacity=".5" stroke="#4a6a8a" stroke-width=".8"/>
<text x="304" y="844.2" font-size="15.5" font-weight="700" fill="#3e6186" textLength="73.8" lengthAdjust="spacingAndGlyphs">ZONAS 30</text>
<path d="M304,856.6H572.4" stroke="#4a6a8a" stroke-width=".9"/>
<text class="z" x="304.5" y="894.4" textLength="261.5" lengthAdjust="spacingAndGlyphs">Las Zonas 30 son una alternativa que complementa la</text>
<text class="z" x="304.5" y="910" textLength="258.1" lengthAdjust="spacingAndGlyphs">red de ciclovías, permitiendo a los ciclistas compartir</text>
<text class="z" x="304.5" y="925.8" textLength="240.1" lengthAdjust="spacingAndGlyphs">la calzada con los vehículos motorizados de forma</text>
<text class="z" x="304.5" y="941.4" textLength="264" lengthAdjust="spacingAndGlyphs">segura, liberando las veredas para que el peatón tenga</text>
<text class="z" x="304.5" y="957" textLength="233.9" lengthAdjust="spacingAndGlyphs">el protagonismo y la seguridad correspondiente.</text>
<text class="z" x="304.5" y="972.8" textLength="243.5" lengthAdjust="spacingAndGlyphs">Son calles donde los vehículos particulares pueden</text>
<text class="z" x="304.5" y="988.4" textLength="170.2" lengthAdjust="spacingAndGlyphs">transitar a un máximo de 30 km/h.</text>

<text x="659.4" y="842" font-size="9.8" font-weight="700" fill="#3e6186" textLength="140.8" lengthAdjust="spacingAndGlyphs">SEÑALES Y DEMARCACIONES</text>
<text x="659.4" y="857.5" font-size="9.8" font-weight="700" fill="#3e6186" textLength="170.6" lengthAdjust="spacingAndGlyphs">QUE TE AYUDARÁN A IDENTIFICAR</text>
<text x="659.4" y="873" font-size="9.8" font-weight="700" fill="#3e6186" textLength="70.4" lengthAdjust="spacingAndGlyphs">LAS ZONAS 30</text>

<!-- sign -->
<rect x="878.3" y="825.3" width="47.4" height="57.4" fill="#1a4a9c" stroke="#fff" stroke-width="1.1"/>
<circle cx="890.6" cy="830.8" r="2.2" fill="#fff"/>
<path d="M890.5,833.5L888,843L890,850L886,856M890.5,835L892,845L893,856M888,843L884,847" fill="none" stroke="#fff" stroke-width="1.7"/>
<path d="M899.5,847V839Q899.5,837.5 901,837L902.5,832.5H913L914.5,837Q916,837.5 916,839V847H913V845H902.5V847Z" fill="#fff"/>
<g fill="none" stroke="#fff" stroke-width=".8"><circle cx="899.5" cy="864" r="6.5"/><circle cx="916" cy="864" r="6.5"/><path d="M899.5,864L904,855H912L916,864M904,855L907.5,864L912,855M904,853.5V855M912,853H915"/></g>
<text x="880.4" y="879.7" font-size="10.5" fill="#fff" textLength="43" lengthAdjust="spacingAndGlyphs">ZONA 30</text>
<circle cx="981.8" cy="867.5" r="15.8" fill="#fff" stroke="#e8474f" stroke-width="3"/>
<text x="969.5" y="875.5" font-size="21" font-weight="700" fill="#111" textLength="24.6" lengthAdjust="spacingAndGlyphs">30</text>

<!-- mini road -->
<g transform="translate(612.5,808.5) scale(.4428,.1521)">
<path d="M113,650H1017V455H1205V652H1507V1164H1205V1360H1017V1164H480L420,1315H225L277,1164H113Z" fill="#b0b8ba" stroke="#ecf4f7" stroke-width="9" paint-order="stroke"/>
<g fill="#5fa546">
<rect x="141" y="731" width="31" height="356"/><rect x="243" y="731" width="30" height="356"/><rect x="816" y="731" width="31" height="356"/><rect x="917" y="731" width="30" height="356"/><path d="M960,731H1047V1087H960Z"/><rect x="1190" y="731" width="30" height="356"/><rect x="1290" y="731" width="31" height="356"/>
</g>
<path d="M993.5,755V1050" stroke="#fff" stroke-width="41" stroke-dasharray="13 10.5" fill="none"/>
<g fill="none" stroke="#edf4f7">
<path d="M113,722H1030Q1047,722 1047,690V455" stroke-width="8"/><path d="M1507,722H1190Q1178,720 1178,680V455" stroke-width="8"/>
<path d="M113,1095H335L258,1315" stroke-width="8"/><path d="M388,1315L468,1095H1030Q1047,1095 1047,1130V1360" stroke-width="8"/><path d="M1507,1095H1190Q1178,1095 1178,1130V1360" stroke-width="8"/>
<path d="M298,909H790M1332,912H1507" stroke-width="13" stroke-dasharray="33 6.6"/>
</g>
</g>
<g fill="none" stroke="#f2f8fa" stroke-width=".9"><ellipse cx="704.2" cy="946.6" rx="12.6" ry="6.5"/><ellipse cx="1003" cy="946.6" rx="12.6" ry="6.5"/><ellipse cx="1168.2" cy="946.6" rx="12.6" ry="6.5"/></g>
<g fill="#f2f8fa" font-size="17" font-weight="700">
<text transform="translate(710.4,946.6) rotate(-90)" x="-4.2" textLength="8.4" lengthAdjust="spacingAndGlyphs">30</text>
<text transform="translate(1009.2,946.6) rotate(-90)" x="-4.2" textLength="8.4" lengthAdjust="spacingAndGlyphs">30</text>
<text transform="translate(1174.4,946.6) rotate(-90)" x="-4.2" textLength="8.4" lengthAdjust="spacingAndGlyphs">30</text>
</g>
<use href="#car" transform="translate(852.9,932.3) scale(.74,.75)"/>
<use href="#car" transform="translate(806.6,960.4) scale(.74,.75)"/>
<use href="#car" transform="translate(1234.8,932.8) scale(.74,.75)"/>
<path d="M901,888.8V992.5H979M899,888.8H903" fill="none" stroke="#3e6186" stroke-width=".9"/><circle cx="979.5" cy="992.5" r="1.6" fill="#3e6186"/>
<path d="M980.4,888.8V900.6" fill="none" stroke="#e8474f" stroke-width=".9"/><circle cx="980.4" cy="900.6" r="1.7" fill="#e8474f"/>

<!-- TARIFA -->
<text x="1320.9" y="843.4" font-size="13.2" font-weight="700" fill="#3e6186" textLength="178.6" lengthAdjust="spacingAndGlyphs">TARIFA INTEGRADA TARJETA</text>
<text x="1505" y="843.4" font-size="15" font-weight="700" fill="#3e6186" textLength="19" lengthAdjust="spacingAndGlyphs">bip</text>
<path d="M1529.5,830.5L1531.5,831L1528,839.5L1525.5,839Z" fill="#3e6186"/><circle cx="1525.5" cy="842" r="1.4" fill="#3e6186"/>
<path d="M1321.6,857.3H1530.6" stroke="#4a6a8a" stroke-width=".7"/>
<g color="#4a6a8a">
<use href="#mt" transform="translate(1365.8,883.5)"/><use href="#bs" transform="translate(1405.9,883.5)"/><use href="#bs" transform="translate(1445.8,883.5)"/>
<use href="#bs" transform="translate(1365.8,922.5)"/><use href="#mt" transform="translate(1405.9,922.5)"/><use href="#bs" transform="translate(1445.8,922.5)"/>
<use href="#bs" transform="translate(1365.8,961.2)"/><use href="#bs" transform="translate(1405.9,961.2)"/><use href="#bs" transform="translate(1445.8,961.2)"/>
</g>
<use href="#pe" x="1386" y="886"/><use href="#pe" x="1426" y="886"/><use href="#eq" x="1465.5" y="886"/><use href="#ck" x="1487.8" y="884"/>
<use href="#pe" x="1386" y="925"/><use href="#pe" x="1426" y="925"/><use href="#eq" x="1465.5" y="925"/><use href="#ck" x="1487.8" y="923"/>
<use href="#pe" x="1386" y="964"/><use href="#pe" x="1426" y="964"/><use href="#eq" x="1465.5" y="964"/><use href="#ck" x="1487.8" y="961"/>
<text x="1322" y="997.2" font-size="9.3" fill="#3e6186" textLength="187" lengthAdjust="spacingAndGlyphs">Máximo dos trasbordos (sólo uno de ellos en</text>
<text x="1322" y="1010.5" font-size="9.3" fill="#3e6186" textLength="109.2" lengthAdjust="spacingAndGlyphs">metro) durante dos horas.</text>

<!-- LOGOS -->
<rect x="37" y="908.4" width="69.7" height="76.2" fill="#8a8a8a"/>
<text x="38" y="957" font-size="37" font-weight="700" fill="#fff" textLength="68" lengthAdjust="spacingAndGlyphs">DTP</text>
<text x="39" y="967" font-size="4.7" fill="#fff" textLength="64.5" lengthAdjust="spacingAndGlyphs">Directorio de Transporte Público</text>
<text x="39" y="975.8" font-size="10" fill="#fff" textLength="64.5" lengthAdjust="spacingAndGlyphs">Metropolitano</text>
<g color="#8a8a8a">
<use href="#bs" transform="translate(47.7,995.6) scale(.72,.85)"/><use href="#mt" transform="translate(72.3,995.6) scale(.8)"/><use href="#bs" transform="translate(96.9,995.6) scale(.72,.85)"/>
</g>
<circle cx="59.8" cy="990" r=".9" fill="#8a8a8a"/><circle cx="59.8" cy="995" r=".9" fill="#8a8a8a"/><circle cx="59.8" cy="1000" r=".9" fill="#8a8a8a"/>
<circle cx="85" cy="990" r=".9" fill="#8a8a8a"/><circle cx="85" cy="995" r=".9" fill="#8a8a8a"/><circle cx="85" cy="1000" r=".9" fill="#8a8a8a"/>
<rect x="37" y="1006.2" width="69.7" height="6.8" fill="#8a8a8a"/>
<!-- building -->
<g fill="#8a8a8a">
<path d="M180.5,946H209L207,950V973H227.4V987H129V961L133,958L137,956L144,952V945H166V951H180.5Z"/>
<rect x="183" y="935" width="22" height="6"/><rect x="182" y="942" width="24" height="3"/>
</g>
<g fill="#f2f9fb">
<path d="M192,953a2.6,3.5 0 0 1 5,0V966H192ZM186,955a1.8,3 0 0 1 3.6,0V960H186ZM200,955a1.8,3 0 0 1 3.6,0V960H200Z"/>
<path d="M154,963a3,4 0 0 1 6,0V975H154ZM170,965a3,4 0 0 1 6,0V975H170ZM137,964a2,3 0 0 1 4,0V972H137ZM137,978a3,3 0 0 1 5,0V986H137ZM153,978a3,3 0 0 1 7,0V986H153Z"/>
<path d="M170,977H181V986H170ZM184,978a2,2 0 0 1 4,0V986H184ZM192,978a2,2 0 0 1 4,0V986H192ZM146,955H163V957H146ZM168,970H226V971H168Z"/>
</g>
<text x="129" y="997" font-size="11" fill="#8a8a8a" textLength="97.6" lengthAdjust="spacingAndGlyphs">MUNICIPALIDAD DE</text>
<text x="129" y="1010" font-size="15" font-weight="700" fill="#8a8a8a" textLength="100.3" lengthAdjust="spacingAndGlyphs">PROVIDENCIA</text>
<path d="M129,1012.8H229.3" stroke="#8a8a8a" stroke-width=".7"/>
</svg>
</body></html>
